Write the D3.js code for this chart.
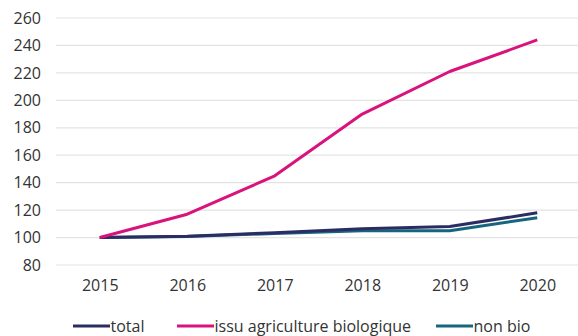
<!DOCTYPE html>
<html>
<head>
<meta charset="utf-8">
<script src="https://cdn.jsdelivr.net/npm/d3@7"></script>
<style>
  html, body { margin: 0; padding: 0; background: #fff; }
  svg { display: block; font-family: "Open Sans", sans-serif; }
</style>
</head>
<body>
<svg id="chart" width="578" height="336"></svg>
<script>
// Index base 100 in 2015
const years = [2015, 2016, 2017, 2018, 2019, 2020];
const total = [100, 101, 103.5, 106.5, 108, 118];
const bio = [100, 117, 145, 190, 221, 244];
const nonBio = [100, 100.8, 103, 105, 105, 114.5];
const yTicks = [80, 100, 120, 140, 160, 180, 200, 220, 240, 260];

const series = [
  { name: "total", values: total, color: "#2b2d62" },
  { name: "issu agriculture biologique", values: bio, color: "#d9127c" },
  { name: "non bio", values: nonBio, color: "#16657f" }
];

const font = "'Open Sans', sans-serif";
const fontSize = "16px";
const textColor = "#333";

const svg = d3.select("#chart");
const left = 56, right = 581, gridRight = 578;

const x = d3.scalePoint().domain(years).range([left, right]).padding(0.5);
const y = d3.scaleLinear().domain([80, 260]).range([265, 18]);

// horizontal gridlines
svg.append("g").selectAll("line").data(yTicks).join("line")
  .attr("x1", left).attr("x2", gridRight)
  .attr("y1", d => y(d)).attr("y2", d => y(d))
  .attr("stroke", "#e3e3e3").attr("stroke-width", 1.2);

// y axis labels
const yAxis = svg.append("g").attr("transform", `translate(${left - 15},0)`)
  .call(d3.axisLeft(y).tickValues(yTicks).tickSize(0).tickPadding(0));
yAxis.select(".domain").remove();
yAxis.selectAll("text").attr("fill", textColor).style("font-size", fontSize)
  .style("font-family", font);

// x axis labels
const xAxis = svg.append("g").attr("transform", `translate(0,${y(80) + 15})`)
  .call(d3.axisBottom(x).tickSize(0).tickPadding(0).tickFormat(d3.format("d")));
xAxis.select(".domain").remove();
xAxis.selectAll("text").attr("fill", textColor).style("font-size", fontSize)
  .style("font-family", font);

// series lines
const line = d3.line().x((d, i) => x(years[i])).y(d => y(d));
svg.append("g").selectAll("path").data([series[2], series[0], series[1]]).join("path")
  .attr("d", d => line(d.values))
  .attr("fill", "none")
  .attr("stroke", d => d.color)
  .attr("stroke-width", 3)
  .attr("stroke-linejoin", "round");

// legend
const legendX = [73, 177, 436];
const legendY = 326;
const lg = svg.append("g").selectAll("g").data(series).join("g")
  .attr("transform", (d, i) => `translate(${legendX[i]},${legendY})`);
lg.append("line").attr("x1", 0).attr("x2", 37).attr("y1", 0).attr("y2", 0)
  .attr("stroke", d => d.color).attr("stroke-width", 3);
lg.append("text").attr("x", 37.5).attr("y", 5.5)
  .attr("fill", textColor).style("font-size", fontSize).style("font-family", font)
  .text(d => d.name);
</script>
</body>
</html>
